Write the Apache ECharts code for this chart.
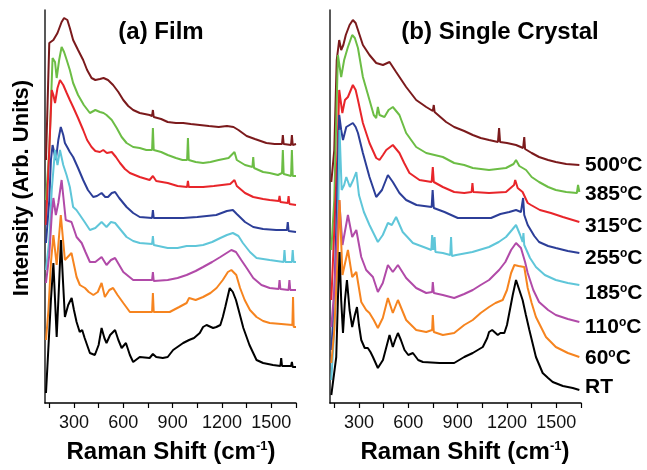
<!DOCTYPE html>
<html><head><meta charset="utf-8">
<script src="https://cdn.jsdelivr.net/npm/echarts@6/dist/echarts.min.js"></script>
<style>html,body{margin:0;padding:0;background:#fff}#c{width:647px;height:470px}</style>
</head><body><div id="c"></div>
<script>
// Raman shift (cm-1) vs intensity (arb. units)
var tempLabels = ['500', '385', '315', '255', '185', '110', '60', 'RT'];
var tickValues = [150, 300, 450, 600, 750, 900, 1050, 1200, 1350, 1500, 1650];
var tickLabels = [300, 600, 900, 1200, 1500];

var filmT500 = [[130,243],[150,360],[175,363],[200,370],[225,381],[240,385],[260,383],[275,375],[295,363],[325,353],[356,343],[380,333],[407,325],[430,323],[458,324],[480,325],[507,323],[538,318],[570,311],[600,303],[630,297],[660,293],[700,290],[760,288],[775,287],[780,293],[785,286],[830,284],[870,281],[920,280],[964,280],[1010,279],[1065,278],[1120,277],[1180,276],[1230,277],[1270,276],[1300,273],[1350,267],[1400,264],[1470,260],[1520,259],[1565,259],[1570,268],[1575,259],[1620,258],[1625,268],[1630,258],[1650,259]];
var filmT385 = [[130,203],[150,253],[170,345],[185,341],[195,325],[210,343],[225,356],[240,351],[256,343],[275,333],[295,320],[325,308],[360,298],[397,290],[430,293],[458,291],[480,290],[498,288],[530,283],[560,275],[590,266],[620,260],[660,256],[700,255],[740,253],[775,253],[780,275],[785,253],[830,251],[870,248],[920,245],[960,243],[988,243],[993,265],[998,243],[1040,241],[1085,240],[1130,241],[1180,243],[1240,245],[1276,251],[1290,243],[1340,238],[1385,236],[1390,246],[1395,235],[1450,231],[1490,230],[1540,228],[1565,230],[1570,253],[1575,229],[1620,227],[1625,253],[1630,227],[1650,227]];
var filmT315 = [[130,178],[150,253],[165,313],[175,308],[185,300],[200,315],[215,323],[235,318],[256,310],[275,303],[295,296],[325,285],[356,273],[380,263],[407,256],[430,252],[458,251],[478,253],[500,250],[530,251],[555,246],[580,240],[610,234],[640,230],[700,226],[760,223],[780,227],[800,222],[870,220],[930,217],[988,216],[993,222],[998,216],[1085,216],[1150,217],[1200,218],[1250,219],[1276,223],[1290,217],[1340,210],[1390,206],[1450,204],[1490,203],[1545,202],[1550,207],[1555,201],[1600,200],[1605,207],[1610,199],[1650,198]];
var filmT255 = [[130,160],[150,203],[160,243],[170,258],[190,243],[205,263],[220,276],[235,268],[245,260],[262,255],[275,251],[295,246],[325,235],[356,223],[385,213],[417,206],[440,207],[468,210],[490,206],[507,206],[530,210],[550,211],[575,205],[620,196],[660,190],[700,186],[775,185],[780,193],[785,185],[870,185],[964,185],[1050,186],[1165,188],[1230,192],[1266,193],[1290,189],[1340,181],[1390,176],[1450,174],[1530,173],[1595,173],[1600,181],[1605,172],[1650,171]];
var filmT185 = [[130,133],[150,163],[165,213],[185,253],[200,238],[215,253],[235,238],[255,228],[275,216],[295,196],[315,193],[336,188],[365,181],[397,173],[430,175],[468,181],[498,176],[525,181],[550,180],[585,173],[620,166],[660,162],[700,160],[775,159],[780,167],[785,158],[870,155],[930,155],[985,157],[1040,157],[1085,158],[1140,161],[1190,165],[1230,168],[1266,170],[1300,167],[1327,160],[1370,151],[1410,145],[1490,143],[1575,141],[1580,153],[1585,141],[1625,141],[1630,153],[1635,141],[1650,141]];
var filmT110 = [[130,120],[150,148],[165,188],[175,205],[190,188],[205,200],[225,223],[250,183],[285,181],[316,166],[347,160],[370,151],[397,141],[430,141],[468,146],[498,138],[525,143],[550,145],[575,138],[600,131],[660,123],[720,123],[775,123],[780,131],[785,122],[870,123],[930,125],[985,128],[1040,132],[1085,136],[1140,141],[1190,146],[1257,153],[1285,151],[1317,143],[1350,135],[1390,125],[1440,118],[1490,115],[1545,114],[1550,123],[1555,114],[1605,113],[1610,123],[1615,113],[1650,113]];
var filmT60 = [[130,63],[145,93],[160,140],[175,168],[195,138],[220,188],[245,143],[285,150],[316,126],[336,118],[367,115],[390,111],[418,108],[445,111],[468,120],[488,106],[515,113],[538,115],[565,108],[600,100],[640,91],[700,91],[775,91],[780,110],[785,91],[882,91],[940,96],[985,100],[1000,105],[1040,103],[1085,106],[1130,110],[1167,115],[1205,123],[1236,131],[1257,133],[1287,128],[1310,115],[1338,103],[1370,93],[1410,86],[1450,82],[1490,80],[1560,79],[1628,78],[1632,106],[1636,76],[1650,76]];
var filmRT = [[130,10],[144,53],[160,103],[175,140],[185,103],[195,66],[208,113],[221,163],[233,123],[245,86],[265,98],[286,105],[300,93],[316,81],[335,71],[350,73],[365,65],[397,50],[427,48],[450,58],[468,75],[485,65],[498,60],[520,68],[550,73],[570,63],[590,55],[616,60],[640,48],[660,41],[700,46],[760,45],[780,49],[800,46],[840,45],[870,46],[903,53],[964,60],[1000,63],[1030,65],[1065,70],[1085,76],[1106,78],[1146,75],[1166,76],[1190,78],[1205,86],[1220,96],[1247,115],[1266,111],[1285,103],[1306,90],[1330,75],[1367,58],[1410,43],[1450,40],[1510,38],[1555,37],[1560,45],[1565,37],[1620,37],[1625,41],[1630,36],[1650,36]];

var xtalT500 = [[132,221],[150,253],[165,343],[180,363],[192,353],[205,358],[220,368],[243,378],[263,383],[280,380],[294,373],[324,358],[364,348],[405,340],[446,338],[486,341],[526,331],[587,316],[648,303],[709,296],[749,292],[755,298],[760,291],[830,281],[879,276],[940,272],[992,268],[1040,265],[1091,263],[1145,261],[1152,275],[1158,261],[1200,260],[1255,258],[1298,255],[1305,266],[1310,254],[1350,250],[1395,246],[1450,243],[1497,241],[1560,239],[1640,238]];
var xtalT385 = [[132,153],[150,203],[172,348],[192,326],[210,343],[233,356],[259,368],[275,365],[294,355],[324,326],[364,303],[390,288],[405,285],[415,296],[425,288],[455,286],[480,293],[506,296],[546,288],[587,270],[648,256],[709,250],[810,246],[879,240],[940,238],[992,235],[1091,233],[1194,235],[1240,239],[1255,243],[1275,237],[1316,233],[1350,226],[1395,221],[1450,216],[1497,213],[1560,211],[1625,210],[1632,218],[1640,211]];
var xtalT315 = [[132,103],[150,173],[170,253],[180,313],[199,290],[215,303],[233,306],[263,318],[280,313],[294,303],[324,280],[364,260],[405,245],[425,243],[446,248],[466,253],[506,258],[546,250],[575,240],[607,230],[668,223],[742,221],[749,236],[755,221],[810,216],[879,211],[940,210],[985,211],[990,220],[995,211],[1091,210],[1194,211],[1243,218],[1250,223],[1265,215],[1295,211],[1326,200],[1346,198],[1400,193],[1467,190],[1540,186],[1600,183],[1640,181]];
var xtalT255 = [[132,53],[150,103],[170,223],[180,288],[192,273],[203,263],[223,276],[243,278],[263,280],[280,276],[294,270],[324,250],[364,226],[405,206],[440,213],[476,228],[506,221],[546,210],[587,203],[650,198],[742,196],[748,213],[755,195],[820,191],[901,185],[1000,185],[1103,185],[1160,189],[1214,191],[1255,193],[1285,191],[1298,205],[1305,188],[1326,178],[1366,167],[1395,161],[1450,157],[1497,155],[1570,152],[1640,150]];
var xtalT185 = [[132,23],[150,73],[175,203],[182,273],[195,213],[210,218],[223,226],[245,216],[265,223],[284,231],[300,208],[330,191],[364,178],[415,161],[445,168],[476,180],[500,178],[526,186],[566,171],[628,160],[709,155],[740,153],[745,168],[752,153],[760,166],[765,151],[810,150],[855,148],[860,166],[865,147],[891,148],[990,151],[1091,156],[1150,161],[1194,166],[1230,173],[1255,178],[1280,168],[1295,161],[1300,170],[1305,158],[1340,145],[1376,136],[1430,128],[1497,123],[1570,120],[1640,118]];
var xtalT110 = [[132,76],[150,113],[170,173],[180,203],[200,158],[233,188],[259,166],[284,173],[314,146],[344,133],[385,126],[415,111],[445,120],[476,138],[506,131],[537,138],[587,125],[648,115],[709,110],[745,111],[749,121],[755,110],[810,108],[879,105],[940,109],[992,113],[1040,118],[1091,123],[1152,133],[1190,141],[1225,153],[1255,160],[1285,155],[1310,141],[1326,130],[1360,113],[1395,101],[1450,93],[1497,88],[1570,84],[1640,81]];
var xtalT60 = [[132,40],[150,73],[170,143],[182,203],[200,128],[233,153],[259,126],[284,131],[314,101],[344,93],[364,90],[390,83],[415,75],[445,85],[476,105],[506,90],[537,103],[587,83],[648,73],[709,71],[745,73],[749,88],[755,71],[810,68],[879,70],[940,78],[992,83],[1040,90],[1091,96],[1130,100],[1174,103],[1200,113],[1225,130],[1245,138],[1270,137],[1305,136],[1326,115],[1350,100],[1376,86],[1437,66],[1497,56],[1570,50],[1640,46]];
var xtalRT = [[132,8],[162,46],[172,103],[182,151],[192,103],[203,70],[215,103],[227,123],[243,93],[259,76],[275,88],[288,96],[300,78],[314,63],[335,55],[354,55],[370,51],[385,46],[415,35],[446,43],[470,58],[486,68],[506,56],[520,63],[537,70],[555,63],[577,53],[600,48],[628,50],[660,43],[689,41],[790,40],[879,40],[940,46],[992,50],[1053,56],[1080,65],[1091,71],[1110,73],[1144,68],[1160,70],[1184,70],[1200,78],[1214,90],[1235,108],[1255,123],[1275,113],[1295,103],[1315,88],[1336,73],[1376,46],[1417,30],[1450,25],[1478,21],[1540,17],[1600,15],[1640,13]];

var colors = ['#7b1a1c', '#6cbd45', '#e8252a', '#2c3e98', '#5fc6d9', '#b14aa8', '#f6841f', '#000000'];
var filmSets = [filmT500, filmT385, filmT315, filmT255, filmT185, filmT110, filmT60, filmRT];
var xtalSets = [xtalT500, xtalT385, xtalT315, xtalT255, xtalT185, xtalT110, xtalT60, xtalRT];

var FF = "'Liberation Sans', Arial, sans-serif";
var chart = echarts.init(document.getElementById('c'), null, {renderer: 'canvas'});

function xAxisCfg(idx) {
  return {
    type: 'value', gridIndex: idx, min: 124, max: 1650,
    axisLine: {show: true, lineStyle: {color: '#000', width: 1.5}},
    axisTick: {show: true, inside: false, length: 5, customValues: tickValues, lineStyle: {color: '#000', width: 1.2}},
    axisLabel: {show: true, customValues: tickLabels, margin: 11, color: '#111', fontSize: 18, fontFamily: FF,
      formatter: function (v) { return String(v); }},
    splitLine: {show: false}
  };
}
function yAxisCfg(idx) {
  return {
    type: 'value', gridIndex: idx, min: 0, max: 393,
    axisLine: {show: true, lineStyle: {color: '#222', width: 1.5}},
    axisTick: {show: false}, axisLabel: {show: false}, splitLine: {show: false}
  };
}

var series = [];
filmSets.forEach(function (d, i) {
  series.push({type: 'line', name: 'film ' + tempLabels[i], xAxisIndex: 0, yAxisIndex: 0, data: d,
    showSymbol: false, symbol: 'none', lineStyle: {color: colors[i], width: 2}, z: 2 + i});
});
xtalSets.forEach(function (d, i) {
  series.push({type: 'line', name: 'crystal ' + tempLabels[i], xAxisIndex: 1, yAxisIndex: 1, data: d,
    showSymbol: false, symbol: 'none', lineStyle: {color: colors[i], width: 2}, z: 2 + i});
});

var legendY = [165, 194, 226, 258, 293, 327, 358, 387];
var graphics = [];
tempLabels.forEach(function (t, i) {
  var txt = t === 'RT' ? '{a|RT}' : '{a|' + t + '}{s|o}{a|C}';
  graphics.push({type: 'text', x: 585, y: legendY[i], style: {text: txt, align: 'left', verticalAlign: 'middle', fill: '#000',
    rich: {a: {fontSize: 21, fontWeight: 'bold', fontFamily: FF, fill: '#000'},
           s: {fontSize: 12, fontWeight: 'bold', fontFamily: FF, fill: '#000', verticalAlign: 'top', lineHeight: 12}}}});
});
graphics.push({type: 'text', x: 161, y: 32, style: {text: '(a) Film', align: 'center', verticalAlign: 'middle', fill: '#000', fontSize: 24, fontWeight: 'bold', fontFamily: FF}});
graphics.push({type: 'text', x: 500, y: 32, style: {text: '(b) Single Crystal', align: 'center', verticalAlign: 'middle', fill: '#000', fontSize: 24, fontWeight: 'bold', fontFamily: FF}});
graphics.push({type: 'text', x: 22, y: 188, rotation: Math.PI / 2, style: {text: 'Intensity (Arb. Units)', align: 'center', verticalAlign: 'middle', fill: '#000', fontSize: 22, fontWeight: 'bold', fontFamily: FF}});
[171, 465].forEach(function (cx) {
  graphics.push({type: 'text', x: cx, y: 452, style: {text: '{a|Raman Shift (cm}{s|-1}{a|)}', align: 'center', verticalAlign: 'middle', fill: '#000',
    rich: {a: {fontSize: 24, fontWeight: 'bold', fontFamily: FF, fill: '#000'},
           s: {fontSize: 13, fontWeight: 'bold', fontFamily: FF, fill: '#000', verticalAlign: 'top', lineHeight: 13}}}});
});

chart.setOption({
  animation: false,
  backgroundColor: '#fff',
  grid: [
    {left: 45, top: 10, width: 251, height: 393, containLabel: false},
    {left: 330, top: 10, width: 251, height: 393, containLabel: false}
  ],
  xAxis: [xAxisCfg(0), xAxisCfg(1)],
  yAxis: [yAxisCfg(0), yAxisCfg(1)],
  series: series,
  graphic: graphics
});
</script>
</body></html>
